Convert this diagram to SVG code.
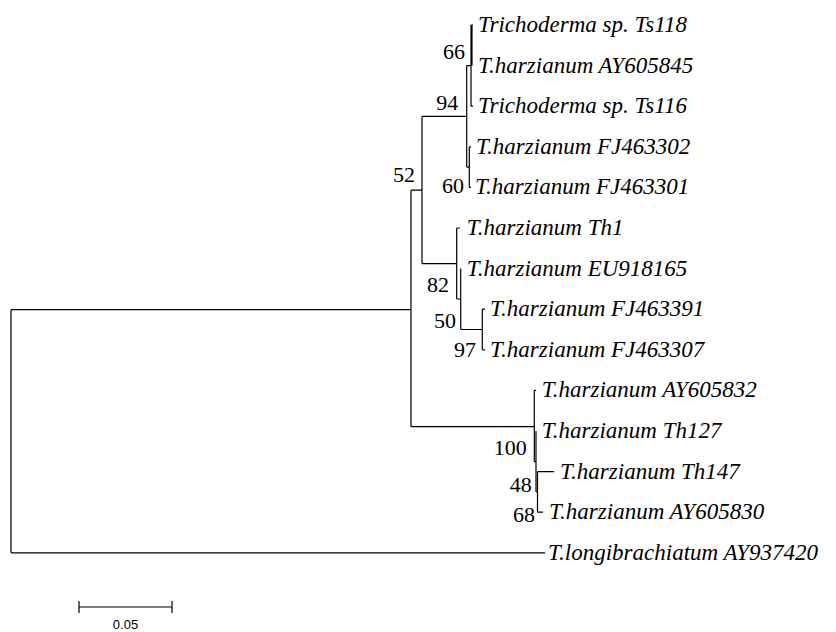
<svg xmlns="http://www.w3.org/2000/svg" width="836" height="632" viewBox="0 0 836 632">
<style>
.br{fill:none;stroke:#000;stroke-width:1.2}
.tx{font-family:"Liberation Serif","Times New Roman",serif;font-style:italic;font-size:23px;fill:#000}
.bs{font-family:"Liberation Serif","Times New Roman",serif;font-size:22px;fill:#000;text-anchor:end}
.sc{font-family:"Liberation Sans",Arial,sans-serif;font-size:13px;fill:#000;text-anchor:middle}
</style>
<rect width="836" height="632" fill="#fff"/>
<g id="connectors">
<path class="br" d="M11,309.7 V552.8 M11,309.7 H411 M11,552.8 H545"/>
<path class="br" d="M411,190.2 V426.7 M411,190.2 H422 M411,426.7 H534.3"/>
<path class="br" d="M422,116.4 V263.6 M422,116.4 H466.7 M422,263.6 H456.7"/>
<path class="br" d="M466.7,65.6 V167.1 M466.7,65.6 H471 M466.7,167.1 H469.3"/>
<path class="br" d="M471,25 V106.2 M472,25 V65.6 M471,25 H473 M471,106.2 H473"/>
<path class="br" d="M469.3,146.8 V187.4 M469.3,146.8 H471 M469.3,187.4 H471"/>
<path class="br" d="M456.7,228 V299 M456.7,228 H460 M456.7,299 H460.7"/>
<path class="br" d="M460.7,268.6 V329.5 M460.7,329.5 H482.3"/>
<path class="br" d="M482.3,309.2 V349.8 M482.3,309.2 H485 M482.3,349.8 H485"/>
<path class="br" d="M534.3,390.4 V461.7 M534.3,390.4 H536 M534.3,461.7 H536"/>
<path class="br" d="M536,431 V492 M536,492 H537.5"/>
<path class="br" d="M537.5,471.6 V512.2 M537.5,471.6 H554 M537.5,512.2 H543"/>
</g>
<g id="leaves">
<g id="n-ts118"><text class="tx" x="478" y="32">Trichoderma sp. Ts118</text></g>
<g id="n-ay605845"><text class="tx" x="478" y="72.6">T.harzianum AY605845</text></g>
<g id="n-ts116"><text class="tx" x="478" y="113.2">Trichoderma sp. Ts116</text></g>
<g id="n-fj463302"><text class="tx" x="476" y="153.8">T.harzianum FJ463302</text></g>
<g id="n-fj463301"><text class="tx" x="475" y="194.4">T.harzianum FJ463301</text></g>
<g id="n-th1"><text class="tx" x="466.7" y="235">T.harzianum Th1</text></g>
<g id="n-eu918165"><text class="tx" x="466.7" y="275.6">T.harzianum EU918165</text></g>
<g id="n-fj463391"><text class="tx" x="490" y="316.2">T.harzianum FJ463391</text></g>
<g id="n-fj463307"><text class="tx" x="490" y="356.8">T.harzianum FJ463307</text></g>
<g id="n-ay605832"><text class="tx" x="541.7" y="397.4">T.harzianum AY605832</text></g>
<g id="n-th127"><text class="tx" x="541.7" y="438">T.harzianum Th127</text></g>
<g id="n-th147"><text class="tx" x="560" y="478.6">T.harzianum Th147</text></g>
<g id="n-ay605830"><text class="tx" x="549" y="519.2">T.harzianum AY605830</text></g>
<g id="n-ay937420"><text class="tx" x="548" y="559.8">T.longibrachiatum AY937420</text></g>
</g>
<g id="bootstrap">
<text class="bs" x="465" y="59">66</text>
<text class="bs" x="458.3" y="110">94</text>
<text class="bs" x="415" y="182">52</text>
<text class="bs" x="464" y="193">60</text>
<text class="bs" x="449" y="292">82</text>
<text class="bs" x="456" y="328">50</text>
<text class="bs" x="476" y="357">97</text>
<text class="bs" x="526.7" y="455">100</text>
<text class="bs" x="531.7" y="492">48</text>
<text class="bs" x="535" y="522">68</text>
</g>
<g id="scale">
<path class="br" d="M79,607 H172 M79,601 V613 M172,601 V613"/>
<text class="sc" x="125.5" y="629">0.05</text>
</g>
</svg>
